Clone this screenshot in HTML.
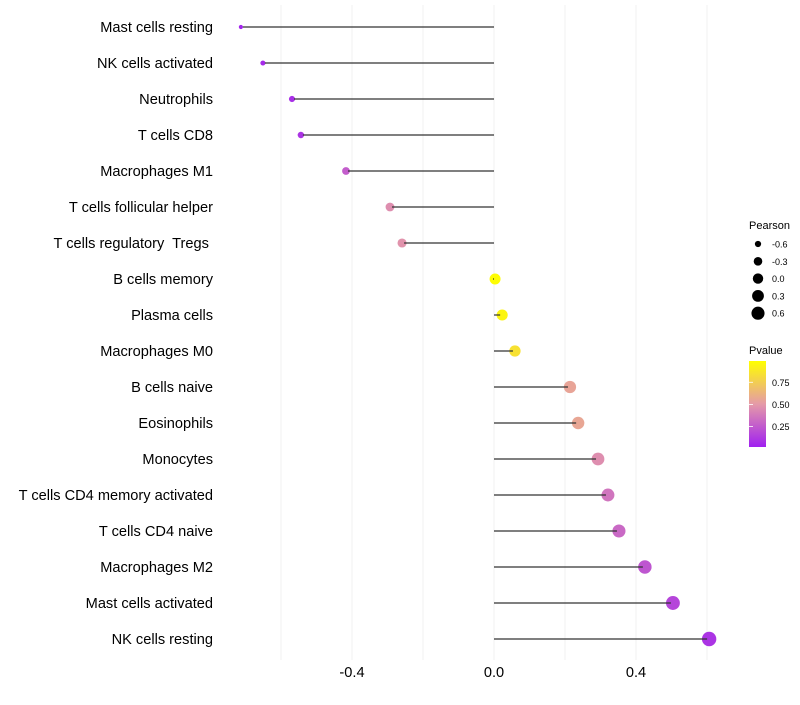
<!DOCTYPE html>
<html><head><meta charset="utf-8"><style>
body{margin:0;background:#fff;font-family:"Liberation Sans",sans-serif}
svg text{font-family:"Liberation Sans",sans-serif;white-space:pre}
</style></head><body>
<svg id="chart" width="800" height="700" xmlns="http://www.w3.org/2000/svg">
<defs><linearGradient id="pg" x1="0" y1="1" x2="0" y2="0">
<stop offset="0" stop-color="#a020f0"/><stop offset="0.5" stop-color="#e59aa8"/><stop offset="1" stop-color="#ffff00"/></linearGradient></defs>
<g id="grid"></g>
<g id="marks"></g>
<g id="ylabels"></g>
<g id="xlabels"></g>
<g>
<text x="749" y="229" font-size="11" fill="#000">Pearson</text>
<g id="sizeleg"></g>
</g>
<g>
<text x="749" y="354" font-size="11" fill="#000">Pvalue</text>
<rect x="749" y="361" width="17" height="86" fill="url(#pg)"/>
<g id="colleg"></g>
</g>
</svg>
<script>
const categories=["Mast cells resting","NK cells activated","Neutrophils","T cells CD8","Macrophages M1","T cells follicular helper","T cells regulatory  Tregs ","B cells memory","Plasma cells","Macrophages M0","B cells naive","Eosinophils","Monocytes","T cells CD4 memory activated","T cells CD4 naive","Macrophages M2","Mast cells activated","NK cells resting"];
const pearson=[-0.713,-0.651,-0.569,-0.544,-0.417,-0.293,-0.259,0.003,0.023,0.059,0.214,0.237,0.293,0.321,0.352,0.425,0.504,0.606];
const pvalues=[0.02,0.04,0.06,0.08,0.25,0.45,0.47,0.99,0.95,0.85,0.55,0.56,0.45,0.35,0.3,0.22,0.15,0.08];
const xTicks=[-0.4,0.0,0.4];
const xGrid=[-0.6,-0.4,-0.2,0,0.2,0.4,0.6];
const sizeLegend=[-0.6,-0.3,0.0,0.3,0.6];
const colorTicks=[0.25,0.5,0.75];
const NS="http://www.w3.org/2000/svg";
const X=v=>494+v*355;
const Y=i=>27+i*36;
const R=v=>Math.sqrt(Math.max(2.5,30+36*v));
const colLeg=p=>447-(p-0.02)/(0.97)*86;
function col(p){const a=[160,32,240],b=[229,154,168],c=[255,255,0];let t,u,w;if(p<0.5){t=p/0.5;u=a;w=b}else{t=(p-0.5)/0.5;u=b;w=c}return `rgb(${u.map((x,k)=>Math.round(x+(w[k]-x)*t)).join(',')})`}
function mk(tag,attrs,parent){const e=document.createElementNS(NS,tag);for(const k in attrs)e.setAttribute(k,attrs[k]);document.getElementById(parent).appendChild(e);return e}
xGrid.forEach(v=>{const l=mk('line',{x1:X(v),x2:X(v),y1:5,y2:660,stroke:'#f0f0f0','stroke-width':1},'grid');

});
categories.forEach((c,i)=>{
const p=mk('circle',{cx:X(pearson[i]),cy:Y(i),r:R(pearson[i]),fill:col(pvalues[i])},'marks');


const l=mk('line',{x1:X(0),x2:X(pearson[i])+(pearson[i]<0?2:-2),y1:Y(i),y2:Y(i),stroke:'#333','stroke-width':1.2},'marks');


const t=mk('text',{x:213,y:Y(i)+5,'text-anchor':'end','font-size':14.6,fill:'#000'},'ylabels');t.textContent=c;

});
xTicks.forEach(v=>{const t=mk('text',{x:X(v),y:677,'text-anchor':'middle','font-size':14.6,fill:'#000'},'xlabels');t.textContent=v.toFixed(1);

});
sizeLegend.forEach((v,i)=>{const y=244+i*17.3;const c=mk('circle',{cx:758,cy:y,r:R(v)*0.8+0.8,fill:'#000'},'sizeleg');


const t=mk('text',{x:772,y:y+3.5,'font-size':9,fill:'#000'},'sizeleg');t.textContent=v.toFixed(1);

});
colorTicks.forEach(p=>{const y=colLeg(p);const l=mk('line',{x1:749,x2:753,y1:y,y2:y,stroke:'#fff','stroke-width':0.8},'colleg');


const t=mk('text',{x:772,y:y+3.5,'font-size':9,fill:'#000'},'colleg');t.textContent=p.toFixed(2);

});
</script>
</body></html>
